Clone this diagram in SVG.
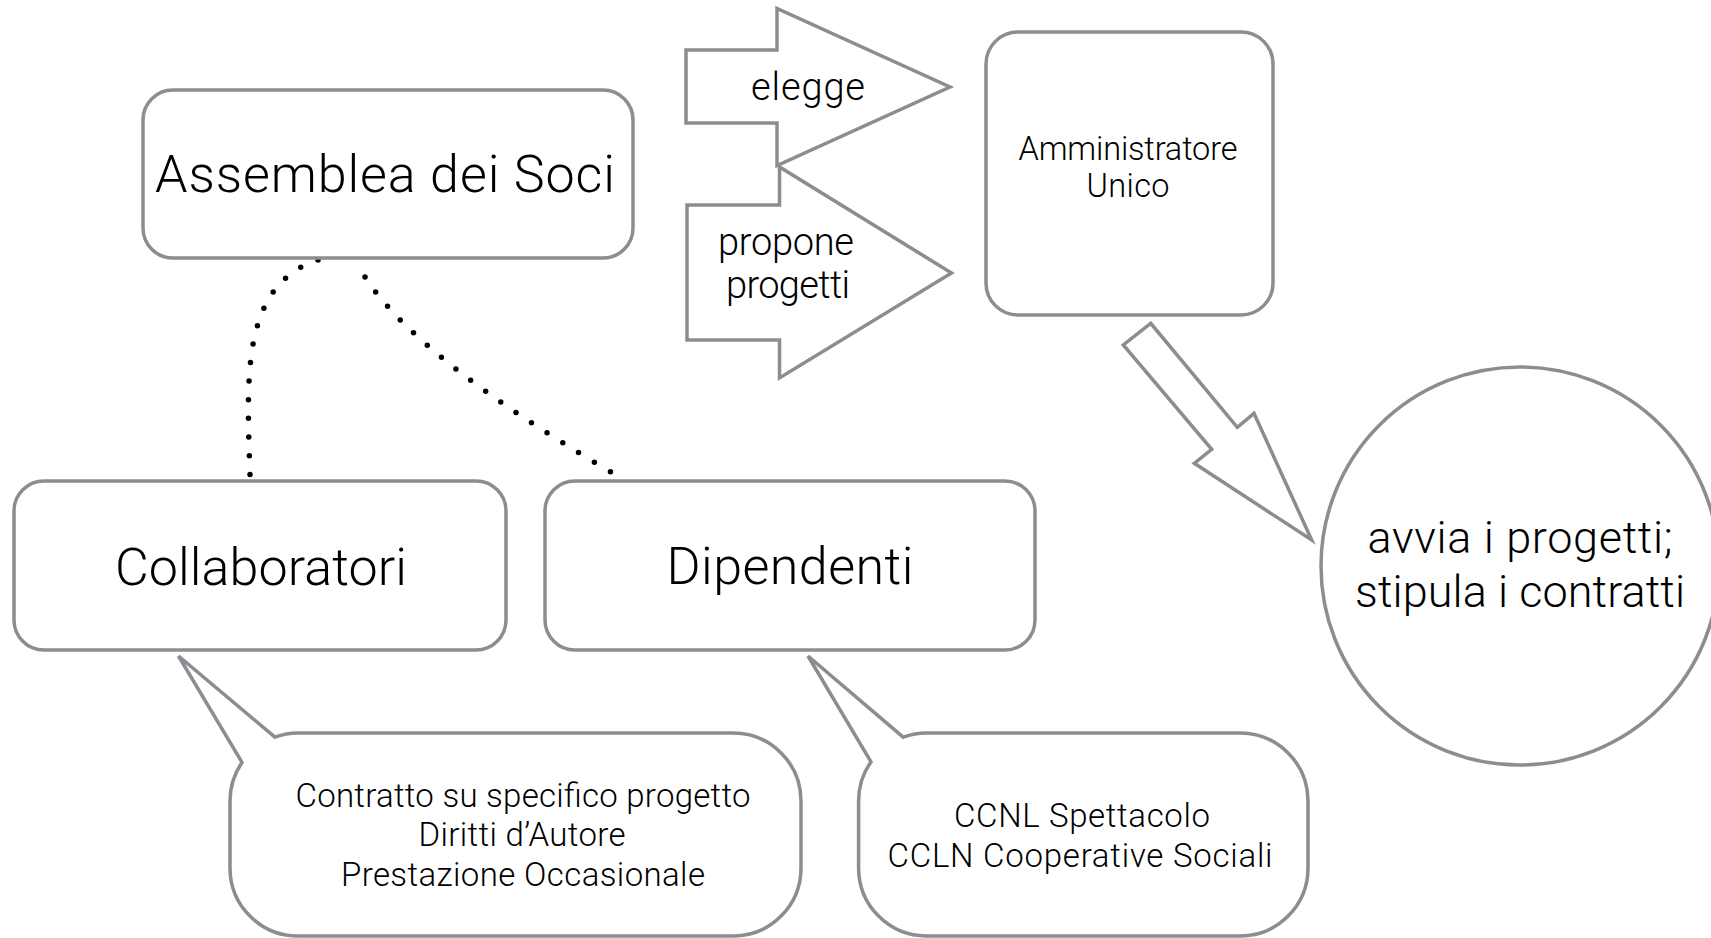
<svg xmlns="http://www.w3.org/2000/svg" width="1711" height="938" viewBox="0 0 1711 938">
  <style>
    .shape { fill: #ffffff; stroke: #8a8d91; stroke-width: 3.5; stroke-linejoin: miter; }
    .lbl { font-family: "Roboto", "Liberation Sans", Arial, sans-serif; font-weight: 300; fill: #000000; text-anchor: middle; }
    .big { font-size: 52px; }
    .mid { font-size: 38px; }
    .adm { font-size: 32.5px; }
    .circ { font-size: 45px; }
    .small { font-size: 33px; }
    .dots { fill: none; stroke: #000000; stroke-width: 5.5; stroke-linecap: round; stroke-dasharray: 0 0.998; }
  </style>
  <rect x="0" y="0" width="1711" height="938" fill="#ffffff"/>

  <g id="connectors">
    <path class="dots" pathLength="13" d="M318,260 C240,285 247,380 250,475"/>
    <path class="dots" pathLength="17" d="M365,277 Q417,358 611,472"/>
    <polygon id="arrow-propone" class="shape" points="687,205 779.5,205 779.5,167 951.5,273 779.5,378 779.5,340 687,340"/>
    <polygon id="arrow-elegge" class="shape" points="686,50 777,50 777,8.5 950,87 777,165.5 777,123 686,123"/>
    <polygon id="arrow-avvia" class="shape" points="1150.7,323.3 1123.3,345 1211.7,449.3 1194.3,463.3 1311.7,540 1254,413.3 1237.3,427.3"/>
    <text class="lbl mid" x="808" y="100" textLength="114">elegge</text>
    <text class="lbl mid" x="786" y="255" textLength="136">propone</text>
    <text class="lbl mid" x="788" y="298" textLength="124">progetti</text>
  </g>

  <g id="assemblea">
    <rect class="shape" x="143" y="90" width="490" height="168" rx="30" ry="30"/>
    <text class="lbl big" x="385" y="192" textLength="460">Assemblea dei Soci</text>
  </g>

  <g id="amministratore">
    <rect class="shape" x="986" y="32" width="287" height="283" rx="32" ry="32"/>
    <text class="lbl adm" x="1128" y="160" textLength="219">Amministratore</text>
    <text class="lbl adm" x="1128" y="197" textLength="83">Unico</text>
  </g>

  <g id="avvia">
    <circle class="shape" cx="1520" cy="566" r="199"/>
    <text class="lbl circ" x="1520" y="553" textLength="305">avvia i progetti;</text>
    <text class="lbl circ" x="1520" y="607" textLength="330">stipula i contratti</text>
  </g>

  <g id="collaboratori">
    <rect class="shape" x="14" y="481" width="492" height="169" rx="30" ry="30"/>
    <text class="lbl big" x="261" y="585" textLength="292">Collaboratori</text>
  </g>

  <g id="dipendenti">
    <rect class="shape" x="545" y="481" width="490" height="169" rx="30" ry="30"/>
    <text class="lbl big" x="790" y="584" textLength="247">Dipendenti</text>
  </g>

  <g id="bubble-collaboratori">
    <path class="shape" d="M275,737.2 A68,68 0 0 1 298,733 L733,733 A68,68 0 0 1 801,801 L801,868 A68,68 0 0 1 733,936 L298,936 A68,68 0 0 1 230,868 L230,801 A68,68 0 0 1 242,762.4 L178.5,656 Z"/>
    <text class="lbl small" x="523" y="807" textLength="455">Contratto su specifico progetto</text>
    <text class="lbl small" x="522" y="846" textLength="207">Diritti d’Autore</text>
    <text class="lbl small" x="523" y="886" textLength="364">Prestazione Occasionale</text>
  </g>

  <g id="bubble-dipendenti">
    <path class="shape" d="M903.2,737.2 A68,68 0 0 1 926.6,733 L1240,733 A68,68 0 0 1 1308,801 L1308,868 A68,68 0 0 1 1240,936 L926.6,936 A68,68 0 0 1 858.6,868 L858.6,801 A68,68 0 0 1 871,761.8 L808,656 Z"/>
    <text class="lbl small" x="1082" y="827" textLength="256">CCNL Spettacolo</text>
    <text class="lbl small" x="1080" y="867" textLength="385">CCLN Cooperative Sociali</text>
  </g>
</svg>
